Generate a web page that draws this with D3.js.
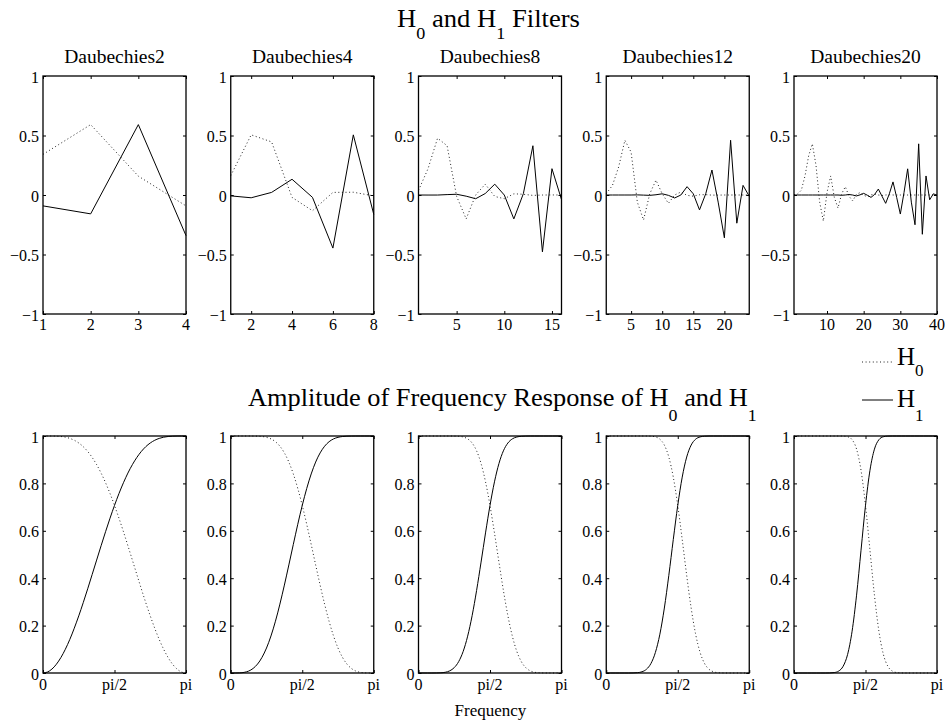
<!DOCTYPE html>
<html><head><meta charset="utf-8">
<script src="https://cdn.jsdelivr.net/npm/d3@7"></script>
<style>
body{margin:0;background:#fff}
svg{display:block}
text{font-family:"Liberation Serif","Times New Roman",serif;fill:#000}
</style>
</head><body>
<svg id="c" width="945" height="724"></svg>
<script>
// ---------- data ----------
const names = ["Daubechies2","Daubechies4","Daubechies8","Daubechies12","Daubechies20"];
const topXTicks = [[1,2,3,4],[2,4,6,8],[5,10,15],[5,10,15,20],[10,20,30,40]];
const topYTicks = [-1,-0.5,0,0.5,1];
const botYTicks = [0,0.2,0.4,0.6,0.8,1];
const freqTickLabels = ["0","pi/2","pi"];

// filter coefficients (H0 low-pass, H1 high-pass)
const h0_db2 = [0.3415,0.5915,0.1585,-0.0915];
const h1_db2 = [-0.0915,-0.1585,0.5915,-0.3415];
const h0_db4 = [0.1629,0.5055,0.4461,-0.0198,-0.1323,0.0218,0.0233,-0.0075];
const h1_db4 = [-0.0075,-0.0233,0.0218,0.1323,-0.0198,-0.4461,0.5055,-0.1629];
const h0_db8 = [0.0385,0.2212,0.4777,0.4139,-0.0112,-0.2008,0.0003,0.0910,-0.0123,-0.0312,0.0099,0.0062,-0.0034,-0.0003,0.0005,-0.0001];
const h1_db8 = [-0.0001,-0.0005,-0.0003,0.0034,0.0062,-0.0099,-0.0312,0.0123,0.0910,-0.0003,-0.2008,0.0112,0.4139,-0.4777,0.2212,-0.0385];
const h0_db12 = [0.011,0.081,0.237,0.460,0.360,-0.060,-0.210,0.010,0.125,0.010,-0.070,0.000,0.025,-0.003,-0.010,0.002,0.003,-0.001,-0.001,0,0,0,0,0];
const h1_db12 = [0,0,0,0,0,0.001,-0.001,-0.003,0.002,0.010,-0.003,-0.025,0.000,0.070,0.010,-0.125,0.010,0.210,-0.060,-0.360,0.460,-0.237,0.081,-0.011];
const h0_db20 = [0.002,0.010,0.040,0.160,0.330,0.430,0.250,-0.060,-0.220,0.020,0.160,-0.020,-0.110,0.010,0.070,-0.010,-0.050,0.005,0.020,-0.002,-0.014,0.001,0.008,0.000,-0.004,0.000,0.002,0,0,0,0,0,0,0,0,0,0,0,0,0];
const h1_db20 = [0,0,0,0,0,0,0,0,0,0,0,0,0,-0.002,0,0.004,0,-0.008,0.001,0.014,-0.002,-0.020,0.005,0.050,-0.010,-0.070,0.010,0.110,-0.020,-0.160,0.020,0.220,-0.060,-0.250,0.430,-0.330,0.160,-0.040,0.010,-0.002];

// amplitude of frequency response, 33 samples from 0 to pi
const a0_db2 = [1.0000,1.0000,0.9999,0.9993,0.9979,0.9950,0.9899,0.9820,0.9705,0.9550,0.9348,0.9096,0.8792,0.8436,0.8028,0.7572,0.7071,0.6532,0.5963,0.5370,0.4764,0.4155,0.3552,0.2967,0.2410,0.1890,0.1418,0.1002,0.0651,0.0370,0.0166,0.0041,0.0000];
const a1_db2 = [0.0000,0.0041,0.0166,0.0370,0.0651,0.1002,0.1418,0.1890,0.2410,0.2967,0.3552,0.4155,0.4764,0.5370,0.5963,0.6532,0.7071,0.7572,0.8028,0.8436,0.8792,0.9096,0.9348,0.9550,0.9705,0.9820,0.9899,0.9950,0.9979,0.9993,0.9999,1.0000,1.0000];
const a0_db4 = [1.0000,1.0000,1.0000,1.0000,1.0000,0.9998,0.9993,0.9978,0.9944,0.9877,0.9759,0.9568,0.9287,0.8900,0.8399,0.7786,0.7071,0.6276,0.5427,0.4560,0.3709,0.2907,0.2185,0.1563,0.1054,0.0661,0.0378,0.0192,0.0081,0.0027,0.0005,0.0000,0.0000];
const a1_db4 = [0.0000,0.0000,0.0005,0.0027,0.0081,0.0192,0.0378,0.0661,0.1054,0.1563,0.2185,0.2907,0.3709,0.4560,0.5427,0.6276,0.7071,0.7786,0.8399,0.8900,0.9287,0.9568,0.9759,0.9877,0.9944,0.9978,0.9993,0.9998,1.0000,1.0000,1.0000,1.0000,1.0000];
const a0_db8 = [1,1,1,1,1,1,1,1.0000,0.9997,0.9988,0.9958,0.9879,0.9703,0.9374,0.8838,0.8066,0.7071,0.5911,0.4679,0.3483,0.2419,0.1554,0.0913,0.0484,0.0227,0.0092,0.0031,0.0008,0.0002,0,0,0,0];
const a1_db8 = [0,0,0,0,0.0002,0.0008,0.0031,0.0092,0.0227,0.0484,0.0913,0.1554,0.2419,0.3483,0.4679,0.5911,0.7071,0.8066,0.8838,0.9374,0.9703,0.9879,0.9958,0.9988,0.9997,1,1,1,1,1,1,1,1];
const a0_db12 = [1,1,1,1,1,1,1,1,1.0000,0.9999,0.9992,0.9962,0.9865,0.9617,0.9112,0.8265,0.7071,0.5629,0.4120,0.2741,0.1638,0.0868,0.0401,0.0158,0.0052,0.0014,0.0003,0,0,0,0,0,0];
const a1_db12 = [0,0,0,0,0,0,0.0003,0.0014,0.0052,0.0158,0.0401,0.0868,0.1638,0.2741,0.4120,0.5629,0.7071,0.8265,0.9112,0.9617,0.9865,0.9962,0.9992,0.9999,1,1,1,1,1,1,1,1,1];
const a0_db20 = [1,1,1,1,1,1,1,1,1,1,1.0000,0.9996,0.9969,0.9843,0.9446,0.8553,0.7071,0.5181,0.3284,0.1764,0.0787,0.0285,0.0082,0.0018,0.0003,0,0,0,0,0,0,0,0];
const a1_db20 = [0,0,0,0,0,0,0,0,0.0003,0.0018,0.0082,0.0285,0.0787,0.1764,0.3284,0.5181,0.7071,0.8553,0.9446,0.9843,0.9969,0.9996,1,1,1,1,1,1,1,1,1,1,1];

const filtersH0 = [h0_db2,h0_db4,h0_db8,h0_db12,h0_db20];
const filtersH1 = [h1_db2,h1_db4,h1_db8,h1_db12,h1_db20];
const ampH0 = [a0_db2,a0_db4,a0_db8,a0_db12,a0_db20];
const ampH1 = [a1_db2,a1_db4,a1_db8,a1_db12,a1_db20];

// ---------- layout ----------
const L0 = 43, STEP = 187.75, W = 143;
const T0 = 76, T1 = 314;   // top row
const B0 = 436, B1 = 673;  // bottom row
const TICK = 3;
const TICKFONT = 16, SUBFONT = 19.5, BIGFONT = 25, SUBSCRIPT = 17;
const svg = d3.select("#c");

function txt(g, x, y, str, size, anchor){
  return g.append("text")
    .attr("x", x).attr("y", y)
    .attr("text-anchor", anchor)
    .style("font-size", size + "px")
    .text(str);
}
const fmt = v => (v < 0 ? "\u2212" : "") + String(Math.abs(v));

function frame(g, x, y, xt, yt){
  const [x0,x1] = x.range(), [y1,y0] = y.range();
  const ax = [
    [d3.axisBottom(x).tickValues(xt), `translate(0,${y1})`],
    [d3.axisTop(x).tickValues(xt), `translate(0,${y0})`],
    [d3.axisLeft(y).tickValues(yt), `translate(${x0},0)`],
    [d3.axisRight(y).tickValues(yt), `translate(${x1},0)`]
  ];
  ax.forEach(([a,tr]) => {
    const s = g.append("g").attr("transform", tr)
      .call(a.tickSizeInner(-TICK).tickSizeOuter(0).tickFormat(""));
    s.select(".domain").remove();
    s.selectAll("line").attr("stroke","#000").attr("stroke-width",1);
  });
  g.append("rect").attr("x",x0).attr("y",y0).attr("width",x1-x0).attr("height",y1-y0)
    .attr("fill","none").attr("stroke","#000").attr("stroke-width",1.3);
}

const dotted = {stroke:"#222", w:1, dash:"1,2.6"};

names.forEach((name, i) => {
  const left = L0 + i*STEP;
  // ----- top: filter coefficients -----
  const n = filtersH0[i].length;
  const x = d3.scaleLinear().domain([1, n]).range([left, left+W]);
  const y = d3.scaleLinear().domain([-1, 1]).range([T1, T0]);
  const g = svg.append("g");
  const ln = d3.line().x((d,j) => x(j+1)).y(d => y(d));
  g.append("path").attr("d", ln(filtersH0[i])).attr("fill","none")
    .attr("stroke",dotted.stroke).attr("stroke-width",dotted.w).attr("stroke-dasharray",dotted.dash);
  g.append("path").attr("d", ln(filtersH1[i])).attr("fill","none")
    .attr("stroke","#000").attr("stroke-width",1);
  frame(g, x, y, topXTicks[i], topYTicks);
  topXTicks[i].forEach(v => txt(g, x(v), T1+16, String(v), TICKFONT, "middle"));
  topYTicks.forEach(v => txt(g, left-4, y(v)+6.5, fmt(v), TICKFONT, "end"));
  txt(g, left+W/2, 63.3, name, SUBFONT, "middle");

  // ----- bottom: amplitude response -----
  const m = ampH0[i].length;
  const xf = d3.scaleLinear().domain([0, Math.PI]).range([left, left+W]);
  const yf = d3.scaleLinear().domain([0, 1]).range([B1, B0]);
  const gb = svg.append("g");
  const lf = d3.line().x((d,j) => xf(j*Math.PI/(m-1))).y(d => yf(d)).curve(d3.curveMonotoneX);
  gb.append("path").attr("d", lf(ampH0[i])).attr("fill","none")
    .attr("stroke",dotted.stroke).attr("stroke-width",dotted.w).attr("stroke-dasharray",dotted.dash);
  gb.append("path").attr("d", lf(ampH1[i])).attr("fill","none")
    .attr("stroke","#000").attr("stroke-width",1);
  const fticks = [0, Math.PI/2, Math.PI];
  frame(gb, xf, yf, fticks, botYTicks);
  fticks.forEach((v,k) => txt(gb, xf(v), B1+17, freqTickLabels[k], TICKFONT, "middle"));
  botYTicks.forEach(v => txt(gb, left-4, yf(v)+6.5, fmt(v), TICKFONT, "end"));
});

// ---------- titles with subscripts ----------
function subTitle(parts, xLeft, baseline, size, subSize, subDy, targetW){
  const t = svg.append("text").attr("x",0).attr("y",0).style("font-size", size+"px");
  let shifted = false;
  parts.forEach(([s, sub]) => {
    const ts = t.append("tspan").text(s);
    if (sub && !shifted){ ts.attr("dy", subDy).style("font-size", subSize+"px"); shifted = true; }
    else if (!sub && shifted){ ts.attr("dy", -subDy); shifted = false; }
  });
  const w = t.node().getComputedTextLength();
  const sx = targetW ? targetW / w : 1;
  t.attr("transform", `translate(${xLeft},${baseline}) scale(${sx},1)`);
  return t;
}
subTitle([["H",0],["0",1],[" and H",0],["1",1],[" Filters",0]], 397, 26.7, BIGFONT, SUBSCRIPT, 12.6, 183);
subTitle([["Amplitude of Frequency Response of H",0],["0",1],[" and H",0],["1",1]], 248, 406, BIGFONT, SUBSCRIPT, 14.5, 509);

// ---------- legend ----------
const legend = svg.append("g");
legend.append("line").attr("x1",862).attr("x2",893).attr("y1",362).attr("y2",362)
  .attr("stroke",dotted.stroke).attr("stroke-width",dotted.w).attr("stroke-dasharray",dotted.dash);
legend.append("line").attr("x1",862).attr("x2",893).attr("y1",400).attr("y2",400)
  .attr("stroke","#000").attr("stroke-width",1);
subTitle([["H",0],["0",1]], 897, 365, BIGFONT, SUBSCRIPT, 11, 0);
subTitle([["H",0],["1",1]], 897, 407, BIGFONT, SUBSCRIPT, 13.5, 0);

// ---------- x label ----------
txt(svg, 490.5, 716, "Frequency", 17, "middle");
</script>
</body></html>
